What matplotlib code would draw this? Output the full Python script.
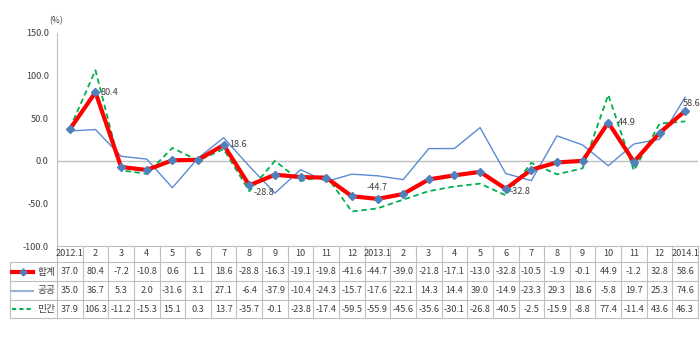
import matplotlib
matplotlib.use("Agg")
import matplotlib.pyplot as plt
from matplotlib.lines import Line2D

plt.rcParams['font.family'] = ['Noto Sans CJK KR', 'DejaVu Sans']

# monthly growth rates (%)
months = ["2012.1", "2", "3", "4", "5", "6", "7", "8", "9", "10", "11", "12",
          "2013.1", "2", "3", "4", "5", "6", "7", "8", "9", "10", "11", "12",
          "2014.1"]
total = [37.0, 80.4, -7.2, -10.8, 0.6, 1.1, 18.6, -28.8, -16.3, -19.1, -19.8, -41.6,
         -44.7, -39.0, -21.8, -17.1, -13.0, -32.8, -10.5, -1.9, -0.1, 44.9, -1.2, 32.8,
         58.6]
public = [35.0, 36.7, 5.3, 2.0, -31.6, 3.1, 27.1, -6.4, -37.9, -10.4, -24.3, -15.7,
          -17.6, -22.1, 14.3, 14.4, 39.0, -14.9, -23.3, 29.3, 18.6, -5.8, 19.7, 25.3,
          74.6]
private = [37.9, 106.3, -11.2, -15.3, 15.1, 0.3, 13.7, -35.7, -0.1, -23.8, -17.4, -59.5,
           -55.9, -45.6, -35.6, -30.1, -26.8, -40.5, -2.5, -15.9, -8.8, 77.4, -11.4, 43.6,
           46.3]
series_names = ["합계", "공공", "민간"]

# labelled points: index -> offset in points, alignment
labelled = {1: ((4, 0), "left", "center"),
            6: ((4, 0), "left", "center"),
            7: ((3, -5), "left", "center"),
            12: ((0, 8), "center", "center"),
            17: ((3, -2), "left", "center"),
            21: ((7, 0), "left", "center"),
            24: ((-2, 5), "left", "center")}

RED = "#FF0000"
MARK = "#4F81BD"
BLUE = "#5B8BD0"
BLUE_KEY = "#95B3D7"
GREEN = "#00B050"
GRID = "#BFBFBF"
FS = 6.6

W, H = 700, 347
fig = plt.figure(figsize=(W / 100, H / 100), dpi=100)

x0, x1 = 57, 698          # left/right of the plot area in px
y_top, y_axis, y_tab = 33, 246, 318

ax = fig.add_axes([x0 / W, 1 - y_axis / H, (x1 - x0) / W, (y_axis - y_top) / H])
n = len(months)
xs = list(range(n))
ax.set_xlim(-0.5, n - 0.5)
ax.set_ylim(-100, 150)
ax.set_yticks([-100, -50, 0, 50, 100, 150])
ax.set_yticklabels([f"{v:.1f}" for v in [-100, -50, 0, 50, 100, 150]], fontsize=FS, color="#404040")
ax.tick_params(axis="y", length=0, pad=6)
ax.set_xticks([])
for s in ["top", "right", "bottom"]:
    ax.spines[s].set_visible(False)
ax.spines["left"].set_color(GRID)
ax.axhline(0, color=GRID, lw=1)

ax.plot(xs, public, color=BLUE, lw=1.0, zorder=2)
ax.plot(xs, private, color=GREEN, lw=1.3, ls=(0, (3, 2)), zorder=3)
ax.plot(xs, total, color=RED, lw=3.0, marker="D", ms=4.3, mfc=MARK, mec=MARK, zorder=4)

for i, (off, ha, va) in labelled.items():
    ax.annotate(f"{total[i]:.1f}", (xs[i], total[i]), xytext=off, textcoords="offset points",
                ha=ha, va=va, fontsize=FS, color="#404040")

ax.text(-0.002, 1.035, "(%)", transform=ax.transAxes, ha="center", va="bottom",
        fontsize=FS - 0.5, color="#404040")

# data table underneath
key_w = 47 / ((x1 - x0) / n)
tab = fig.add_axes([10 / W, 1 - y_tab / H, (x1 - 10) / W, (y_tab - y_axis) / H])
tab.set_xlim(-0.5 - key_w, n - 0.5)
tab.set_ylim(y_tab - y_axis, 0)
tab.axis("off")
rows = [0, 16, 35, 54, 72]
for r in rows:
    left = -0.5 if r == 0 else -0.5 - key_w
    tab.plot([left, n - 0.5], [r, r], color=GRID, lw=0.8, clip_on=False)
tab.plot([-0.5 - key_w] * 2, [rows[1], rows[-1]], color=GRID, lw=0.8, clip_on=False)
for k in range(n + 1):
    tab.plot([k - 0.5] * 2, [0, rows[-1]], color=GRID, lw=0.8, clip_on=False)

for i, m in enumerate(months):
    tab.text(i, (rows[0] + rows[1]) / 2, m, ha="center", va="center", fontsize=FS, color="#404040")
for j, vals in enumerate([total, public, private]):
    yc = (rows[j + 1] + rows[j + 2]) / 2
    for i, v in enumerate(vals):
        tab.text(i, yc, f"{v:.1f}", ha="center", va="center", fontsize=FS, color="#404040")
    tab.text(-0.56, yc, series_names[j], ha="right", va="center", fontsize=7, color="#404040")

# legend keys inside the table
kx0 = -0.5 - key_w + 0.08
kx1 = kx0 + 0.82
yc = [(rows[j + 1] + rows[j + 2]) / 2 for j in range(3)]
tab.add_line(Line2D([kx0, kx1], [yc[0], yc[0]], color=RED, lw=3.0))
tab.add_line(Line2D([(kx0 + kx1) / 2], [yc[0]], marker="D", ms=3.5, color=MARK, lw=0))
tab.add_line(Line2D([kx0, kx1], [yc[1], yc[1]], color=BLUE_KEY, lw=1.5))
tab.add_line(Line2D([kx0, kx1], [yc[2], yc[2]], color=GREEN, lw=1.5, ls=(0, (2, 1.5))))

fig.savefig("out.png", dpi=100)
